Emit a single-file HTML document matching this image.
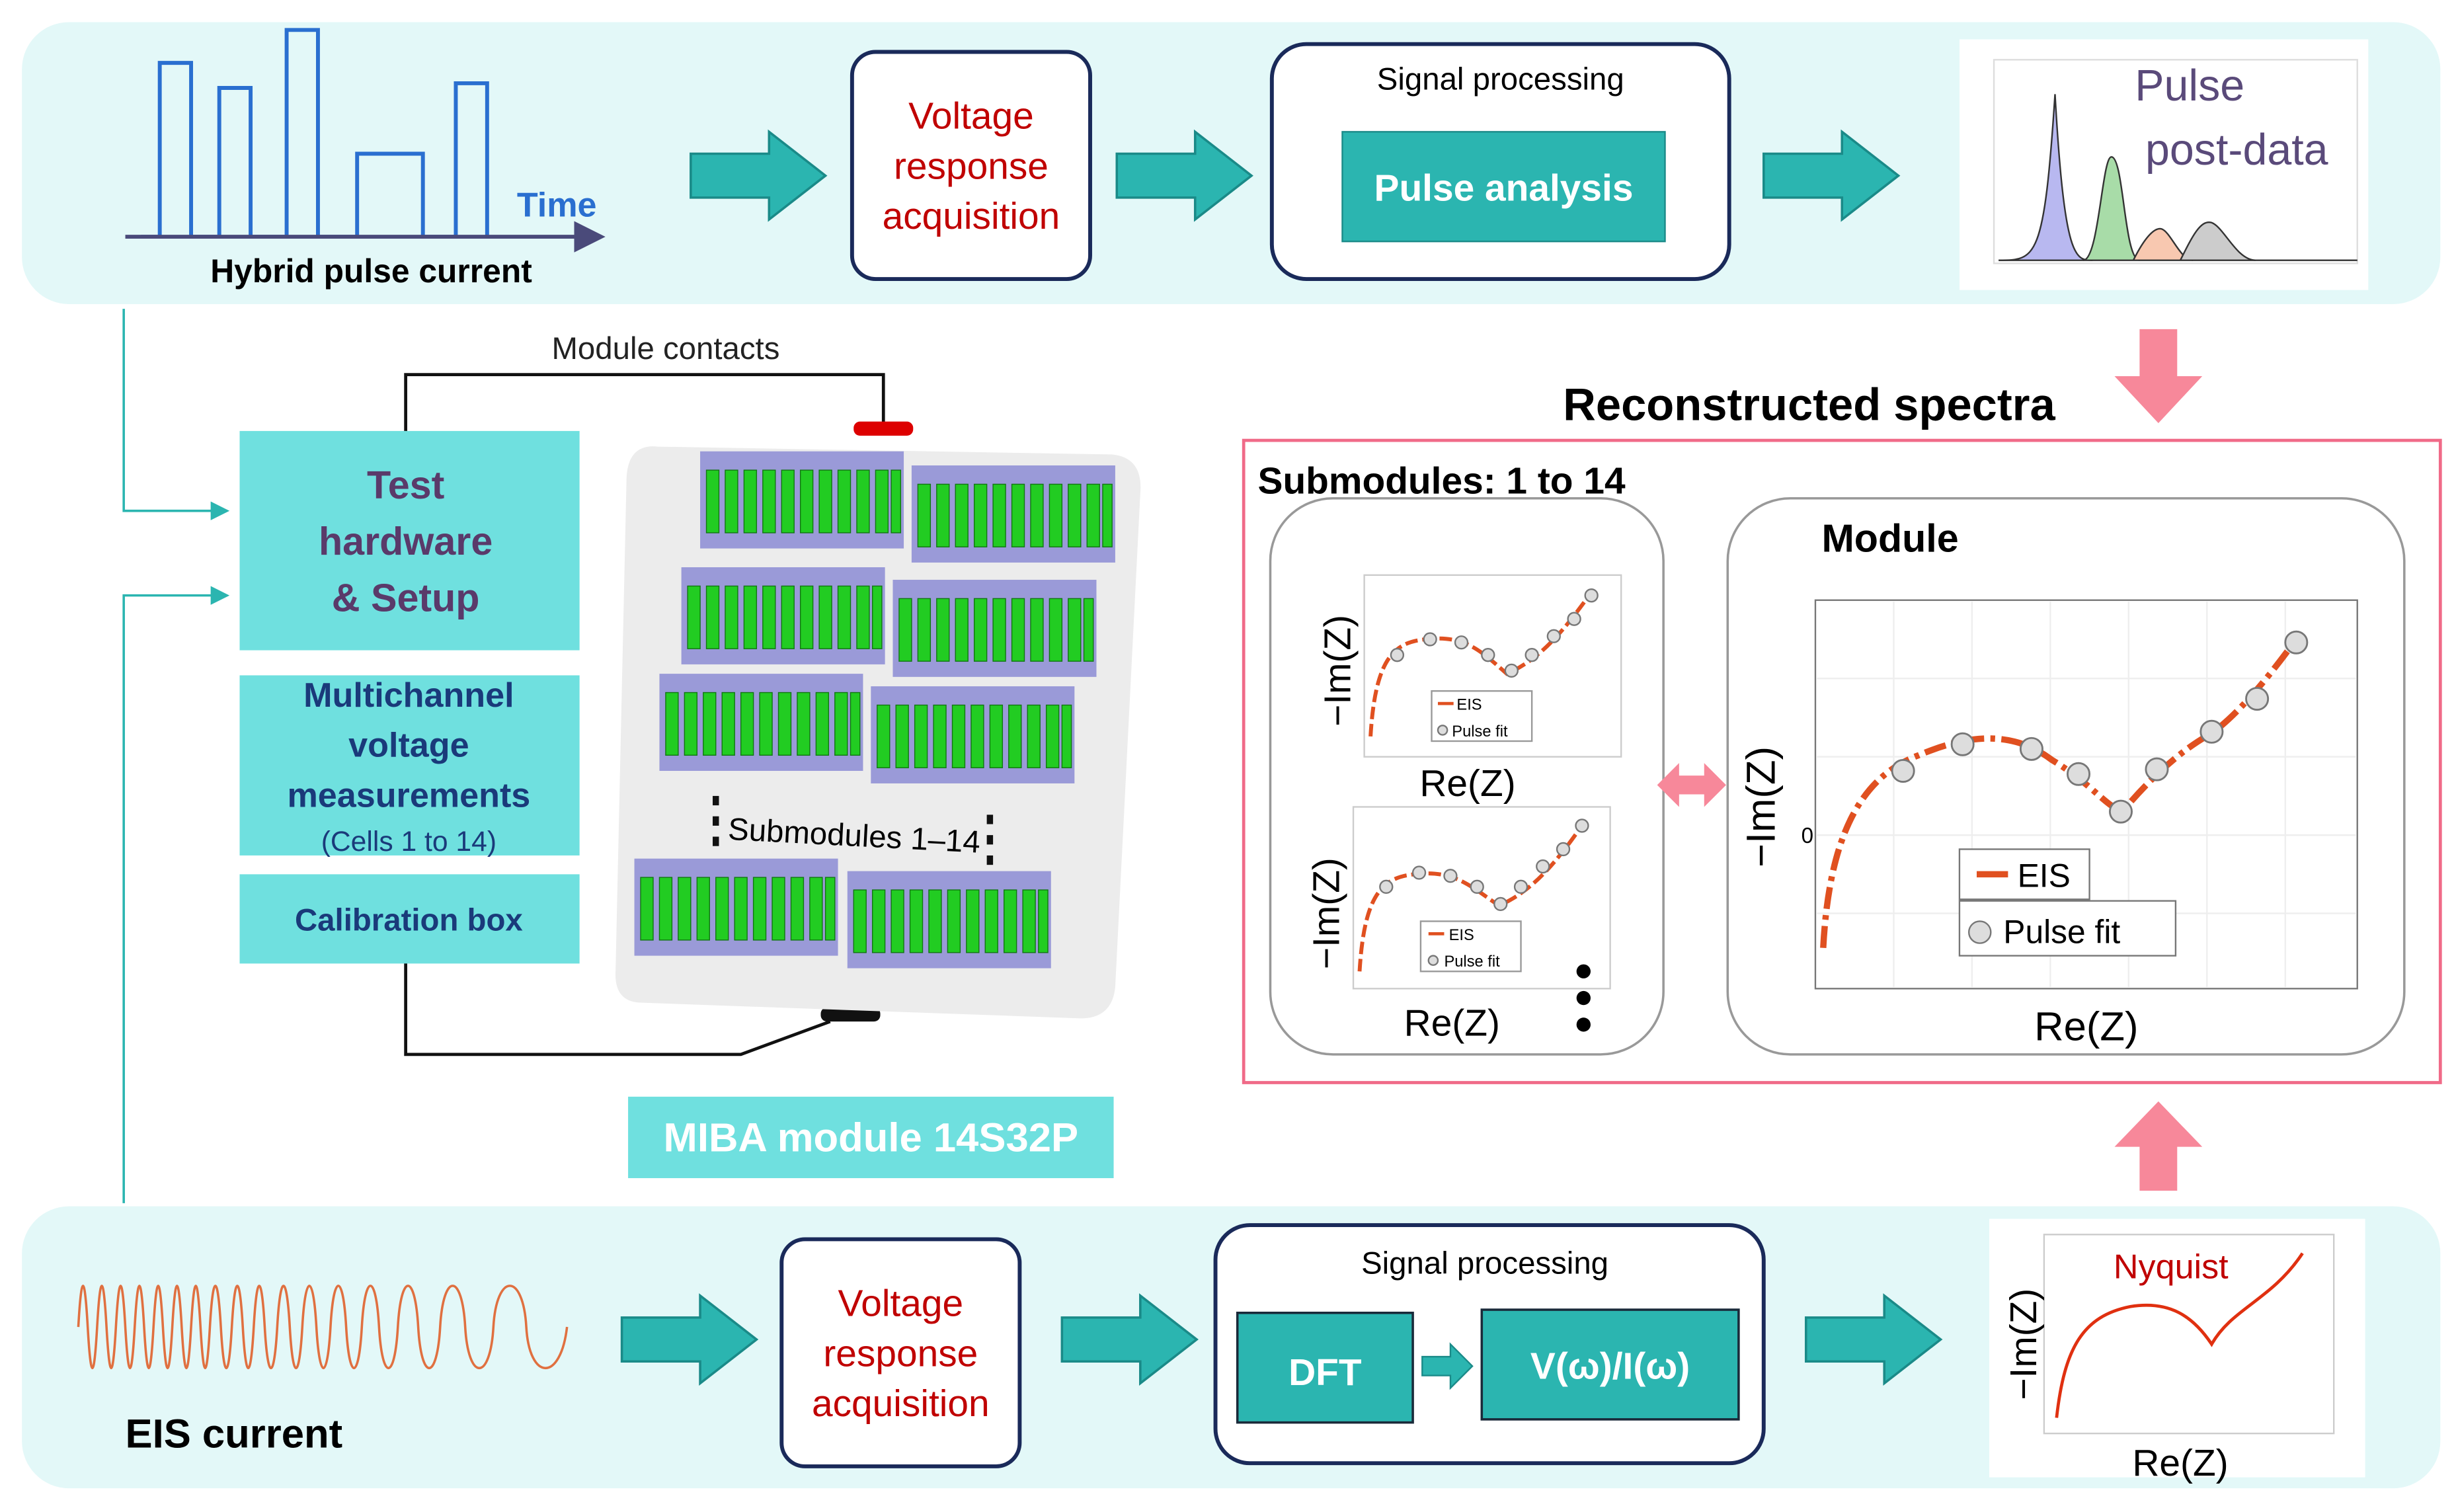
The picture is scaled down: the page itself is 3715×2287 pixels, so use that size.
<!DOCTYPE html>
<html><head><meta charset="utf-8"><style>html,body{margin:0;padding:0;background:#fff}svg{display:block}text{font-family:"Liberation Sans",sans-serif}</style></head><body>
<svg width="3715" height="2287" viewBox="0 0 1568 965" xmlns="http://www.w3.org/2000/svg">
<defs>
<marker id="ah" markerWidth="8" markerHeight="8" refX="7" refY="4" orient="auto"><path d="M0,0 L8,4 L0,8 z" fill="#2bb5b0"/></marker>
<marker id="ah2" markerWidth="8" markerHeight="8" refX="7" refY="4" orient="auto"><path d="M0,0 L8,4 L0,8 z" fill="#4a4a7a"/></marker>
<g id="tarrow"><path d="M0,-14 H50 V-28 L86,0 L50,28 V14 H0 Z" fill="#2bb5b0" stroke="#1a8a88" stroke-width="1.5"/></g>
<g id="cells"><rect x="0" y="0" width="130" height="62" fill="#9a9ad8"/><g fill="#22cc22" stroke="#117711" stroke-width="0.6">
<rect x="4" y="12" width="8" height="40"/><rect x="16" y="12" width="8" height="40"/><rect x="28" y="12" width="8" height="40"/><rect x="40" y="12" width="8" height="40"/><rect x="52" y="12" width="8" height="40"/><rect x="64" y="12" width="8" height="40"/><rect x="76" y="12" width="8" height="40"/><rect x="88" y="12" width="8" height="40"/><rect x="100" y="12" width="8" height="40"/><rect x="112" y="12" width="8" height="40"/><rect x="122" y="12" width="6" height="40"/></g></g>
</defs>
<!-- bands -->
<rect x="14" y="14" width="1544" height="180" rx="30" fill="#e3f8f8"/>
<rect x="14" y="770" width="1544" height="180" rx="30" fill="#e3f8f8"/>
<!-- pulses -->
<g fill="none" stroke="#2a6fd0" stroke-width="2.5">
<path d="M90,151 H102 V40 H122 V151 H140 V56 H160 V151 H183 V19 H203 V151 H228 V98 H270 V151 H291 V53 H311 V151"/></g>
<line x1="80" y1="151" x2="384" y2="151" stroke="#4a4a7a" stroke-width="2.5" marker-end="url(#ah2)"/>
<text x="330" y="138" font-size="22" font-weight="bold" fill="#2a6fd0">Time</text>
<text x="237" y="180" font-size="21" font-weight="bold" text-anchor="middle">Hybrid pulse current</text>
<!-- top arrows -->
<use href="#tarrow" x="441" y="112"/><use href="#tarrow" x="713" y="112"/><use href="#tarrow" x="1126" y="112"/>
<rect x="544" y="33" width="152" height="145" rx="15" fill="#fff" stroke="#1a2a5a" stroke-width="2.5"/>
<g font-size="24" fill="#c00000" text-anchor="middle"><text x="620" y="82">Voltage</text><text x="620" y="114">response</text><text x="620" y="146">acquisition</text></g>
<rect x="812" y="28" width="292" height="150" rx="22" fill="#fff" stroke="#1a2a5a" stroke-width="2.5"/>
<text x="958" y="57" font-size="20" text-anchor="middle">Signal processing</text>
<rect x="857" y="84" width="206" height="70" fill="#2bb5b0" stroke="#1a8a88"/>
<text x="960" y="128" font-size="24" font-weight="bold" fill="#fff" text-anchor="middle">Pulse analysis</text>
<!-- post data -->
<rect x="1251" y="25" width="261" height="160" fill="#fff"/>
<rect x="1273" y="38" width="232" height="130" fill="none" stroke="#ddd"/>
<path d="M1276,166 C1300,166 1305,166 1312,60 C1318,166 1325,166 1336,166" fill="#b8b8f0" stroke="#333"/>
<path d="M1330,166 C1340,166 1342,100 1348,100 C1356,100 1356,166 1366,166" fill="#a8dca8" stroke="#333"/>
<path d="M1362,166 C1370,150 1376,145 1380,146 C1386,148 1392,166 1400,166" fill="#f8c8b0" stroke="#333"/>
<path d="M1392,166 C1400,150 1405,140 1412,142 C1420,145 1428,166 1440,166" fill="#ccc" stroke="#333"/>
<path d="M1276,166 H1505" stroke="#333"/>
<text x="1398" y="64" font-size="28" fill="#5a4a7a" text-anchor="middle">Pulse</text>
<text x="1428" y="105" font-size="28" fill="#5a4a7a" text-anchor="middle">post-data</text>
<!-- pink arrows -->
<path d="M1366,210 H1390 V240 H1406 L1378,270 L1350,240 H1366 Z" fill="#f7889a"/>
<path d="M1366,760 H1390 V732 H1406 L1378,703 L1350,732 H1366 Z" fill="#f7889a"/>
<text x="1155" y="268" font-size="29" font-weight="bold" text-anchor="middle">Reconstructed spectra</text>
<rect x="794" y="281" width="764" height="410" fill="none" stroke="#f06a88" stroke-width="2"/>
<text x="803" y="315" font-size="24" font-weight="bold">Submodules: 1 to 14</text>
<rect x="811" y="318" width="251" height="355" rx="40" fill="#fff" stroke="#999" stroke-width="1.5"/>
<rect x="1103" y="318" width="432" height="355" rx="40" fill="#fff" stroke="#999" stroke-width="1.5"/>
<!-- small plots -->
<rect x="871" y="367" width="164" height="116" fill="none" stroke="#ccc"/>
<path d="M875,470 C878,420 890,410 910,408 C935,405 945,415 962,430 C985,420 1000,400 1016,378" fill="none" stroke="#e05020" stroke-width="2.5" stroke-dasharray="8,3"/>
<g fill="#ddd" stroke="#777"><circle cx="892" cy="418" r="4"/><circle cx="913" cy="408" r="4"/><circle cx="933" cy="410" r="4"/><circle cx="950" cy="418" r="4"/><circle cx="965" cy="428" r="4"/><circle cx="978" cy="418" r="4"/><circle cx="992" cy="406" r="4"/><circle cx="1005" cy="395" r="4"/><circle cx="1016" cy="380" r="4"/></g>
<rect x="914" y="441" width="64" height="32" fill="#fff" stroke="#999"/><text x="930" y="453" font-size="10">EIS</text><text x="927" y="470" font-size="10">Pulse fit</text><line x1="918" y1="449" x2="928" y2="449" stroke="#e05020" stroke-width="2"/><circle cx="921" cy="466" r="3" fill="#ddd" stroke="#777"/>
<text x="862" y="428" font-size="24" transform="rotate(-90 862 428)" text-anchor="middle">−Im(Z)</text>
<text x="937" y="508" font-size="24" text-anchor="middle">Re(Z)</text>
<rect x="864" y="515" width="164" height="116" fill="none" stroke="#ccc"/>
<path d="M868,620 C871,570 883,560 903,558 C928,555 938,565 957,578 C980,568 995,548 1010,527" fill="none" stroke="#e05020" stroke-width="2.5" stroke-dasharray="8,3"/>
<g fill="#ddd" stroke="#777"><circle cx="885" cy="566" r="4"/><circle cx="906" cy="557" r="4"/><circle cx="926" cy="559" r="4"/><circle cx="943" cy="566" r="4"/><circle cx="958" cy="577" r="4"/><circle cx="971" cy="566" r="4"/><circle cx="985" cy="553" r="4"/><circle cx="998" cy="542" r="4"/><circle cx="1010" cy="527" r="4"/></g>
<rect x="907" y="588" width="64" height="32" fill="#fff" stroke="#999"/><text x="925" y="600" font-size="10">EIS</text><text x="922" y="617" font-size="10">Pulse fit</text><line x1="912" y1="596" x2="922" y2="596" stroke="#e05020" stroke-width="2"/><circle cx="915" cy="613" r="3" fill="#ddd" stroke="#777"/>
<text x="855" y="583" font-size="24" transform="rotate(-90 855 583)" text-anchor="middle">−Im(Z)</text>
<text x="927" y="661" font-size="24" text-anchor="middle">Re(Z)</text>
<circle cx="1011" cy="620" r="4.5"/><circle cx="1011" cy="637" r="4.5"/><circle cx="1011" cy="654" r="4.5"/>
<path d="M1058,501 L1072,487 V495 H1088 V487 L1102,501 L1088,515 V507 H1072 V515 Z" fill="#f7889a"/>
<!-- module plot -->
<text x="1163" y="352" font-size="25" font-weight="bold">Module</text>
<rect x="1159" y="383" width="346" height="248" fill="none" stroke="#777"/>
<g stroke="#eee"><line x1="1209" y1="384" x2="1209" y2="630"/><line x1="1259" y1="384" x2="1259" y2="630"/><line x1="1309" y1="384" x2="1309" y2="630"/><line x1="1359" y1="384" x2="1359" y2="630"/><line x1="1409" y1="384" x2="1409" y2="630"/><line x1="1459" y1="384" x2="1459" y2="630"/><line x1="1160" y1="433" x2="1504" y2="433"/><line x1="1160" y1="483" x2="1504" y2="483"/><line x1="1160" y1="533" x2="1504" y2="533"/><line x1="1160" y1="583" x2="1504" y2="583"/></g>
<path d="M1164,605 C1168,530 1190,495 1225,482 C1265,465 1290,470 1310,485 C1335,500 1345,515 1355,518 C1370,500 1390,480 1412,468 C1430,455 1450,430 1466,408" fill="none" stroke="#e05020" stroke-width="4" stroke-dasharray="14,4,3,4"/>
<g fill="#ddd" stroke="#777" stroke-width="1.2"><circle cx="1215" cy="492" r="7"/><circle cx="1253" cy="475" r="7"/><circle cx="1297" cy="478" r="7"/><circle cx="1327" cy="494" r="7"/><circle cx="1354" cy="518" r="7"/><circle cx="1377" cy="491" r="7"/><circle cx="1412" cy="467" r="7"/><circle cx="1441" cy="446" r="7"/><circle cx="1466" cy="410" r="7"/></g>
<text x="1150" y="538" font-size="14">0</text>
<rect x="1251" y="542" width="83" height="32" fill="#fff" stroke="#777"/><line x1="1262" y1="558" x2="1282" y2="558" stroke="#e05020" stroke-width="4"/><text x="1288" y="566" font-size="21">EIS</text>
<rect x="1251" y="575" width="138" height="35" fill="#fff" stroke="#777"/><circle cx="1264" cy="595" r="7" fill="#ddd" stroke="#777"/><text x="1279" y="602" font-size="21">Pulse fit</text>
<text x="1133" y="515" font-size="26" transform="rotate(-90 1133 515)" text-anchor="middle">−Im(Z)</text>
<text x="1332" y="664" font-size="26" text-anchor="middle">Re(Z)</text>
<!-- left connectors -->
<path d="M79,197 V326 H145" fill="none" stroke="#2bb5b0" stroke-width="1.5" marker-end="url(#ah)"/>
<path d="M79,768 V380 H145" fill="none" stroke="#2bb5b0" stroke-width="1.5" marker-end="url(#ah)"/>
<!-- hardware boxes -->
<rect x="153" y="275" width="217" height="140" fill="#6fe0df"/>
<g font-size="25" font-weight="bold" fill="#5a3a6a" text-anchor="middle"><text x="259" y="318">Test</text><text x="259" y="354">hardware</text><text x="259" y="390">&amp; Setup</text></g>
<rect x="153" y="431" width="217" height="115" fill="#6fe0df"/>
<g font-size="22" font-weight="bold" fill="#1a3a7a" text-anchor="middle"><text x="261" y="451">Multichannel</text><text x="261" y="483">voltage</text><text x="261" y="515">measurements</text></g>
<text x="261" y="543" font-size="18" fill="#1a3a7a" text-anchor="middle">(Cells 1 to 14)</text>
<rect x="153" y="558" width="217" height="57" fill="#6fe0df"/>
<text x="261" y="594" font-size="20" font-weight="bold" fill="#1a3a7a" text-anchor="middle">Calibration box</text>
<!-- contacts -->
<path d="M259,275 V239 H564 V270" fill="none" stroke="#111" stroke-width="2"/>
<text x="425" y="229" font-size="20" text-anchor="middle" fill="#222">Module contacts</text>
<rect x="545" y="269" width="38" height="9" rx="4" fill="#d00"/>
<path d="M259,615 V673 H473 L530,652" fill="none" stroke="#111" stroke-width="2"/>
<rect x="524" y="643" width="38" height="9" rx="4" fill="#111"/>
<!-- module image -->
<path d="M420,285 L710,290 Q730,292 728,315 L712,630 Q710,650 690,650 L410,640 Q392,640 393,620 L400,305 Q401,283 420,285 Z" fill="#ececec"/>
<use href="#cells" x="447" y="288"/><use href="#cells" x="582" y="297"/>
<use href="#cells" x="435" y="362"/><use href="#cells" x="570" y="370"/>
<use href="#cells" x="421" y="430"/><use href="#cells" x="556" y="438"/>
<use href="#cells" x="405" y="548"/><use href="#cells" x="541" y="556"/>
<text x="545" y="540" font-size="20" text-anchor="middle" transform="rotate(3 545 540)">Submodules 1–14</text>
<g fill="#111"><rect x="455" y="508" width="4" height="6"/><rect x="455" y="521" width="4" height="6"/><rect x="455" y="534" width="4" height="6"/><rect x="630" y="520" width="4" height="6"/><rect x="630" y="533" width="4" height="6"/><rect x="630" y="546" width="4" height="6"/></g>
<rect x="401" y="700" width="310" height="52" fill="#6fe0df"/>
<text x="556" y="735" font-size="26" font-weight="bold" fill="#fff" text-anchor="middle">MIBA module 14S32P</text>
<!-- bottom row -->
<path d="M50,847 C52,812 54,812 56,847 S60,882 62,847 S66,812 68,847 S72,882 74,847 S78,812 80,847 S84,882 86,847 S90,812 92,847 S96,882 98,847 S102,812 104,847 S108,882 110,847 S114,812 116,847 S120,882 122,847 S126,812 128,847 S132,882 134,847 S139,812 141,847 S146,882 148,847 S153,812 155,847 S160,882 162,847 S167,812 169,847 S175,882 177,847 S183,812 185,847 S191,882 193,847 S200,812 202,847 S209,882 211,847 S219,812 221,847 S229,882 231,847 S240,812 242,847 S252,882 254,847 S265,812 267,847 S279,882 281,847 S295,812 297,847 S313,882 315,847 S334,812 336,847 S358,882 362,847" fill="none" stroke="#e07040" stroke-width="1.5"/>
<text x="80" y="924" font-size="26" font-weight="bold">EIS current</text>
<use href="#tarrow" x="397" y="855"/><use href="#tarrow" x="678" y="855"/><use href="#tarrow" x="1153" y="855"/>
<rect x="499" y="791" width="152" height="145" rx="15" fill="#fff" stroke="#1a2a5a" stroke-width="2.5"/>
<g font-size="24" fill="#c00000" text-anchor="middle"><text x="575" y="840">Voltage</text><text x="575" y="872">response</text><text x="575" y="904">acquisition</text></g>
<rect x="776" y="782" width="350" height="152" rx="22" fill="#fff" stroke="#1a2a5a" stroke-width="2.5"/>
<text x="948" y="813" font-size="20" text-anchor="middle">Signal processing</text>
<rect x="790" y="838" width="112" height="70" fill="#2bb5b0" stroke="#1a2a3a" stroke-width="1.5"/>
<text x="846" y="884" font-size="24" font-weight="bold" fill="#fff" text-anchor="middle">DFT</text>
<path d="M908,866 H926 V858 L940,872 L926,886 V878 H908 Z" fill="#2bb5b0" stroke="#1a8a88"/>
<rect x="946" y="836" width="164" height="70" fill="#2bb5b0" stroke="#1a2a3a" stroke-width="1.5"/>
<text x="1028" y="880" font-size="24" font-weight="bold" fill="#fff" text-anchor="middle">V(ω)/I(ω)</text>
<rect x="1270" y="778" width="240" height="165" fill="#fff"/>
<rect x="1305" y="788" width="185" height="127" fill="none" stroke="#ccc"/>
<path d="M1313,905 C1318,860 1330,840 1360,834 C1385,830 1400,840 1412,858 C1425,835 1450,830 1470,800" fill="none" stroke="#e03010" stroke-width="2"/>
<text x="1386" y="816" font-size="22" fill="#c00000" text-anchor="middle">Nyquist</text>
<text x="1300" y="858" font-size="24" transform="rotate(-90 1300 858)" text-anchor="middle">−Im(Z)</text>
<text x="1392" y="942" font-size="24" text-anchor="middle">Re(Z)</text>
</svg>
</body></html>
